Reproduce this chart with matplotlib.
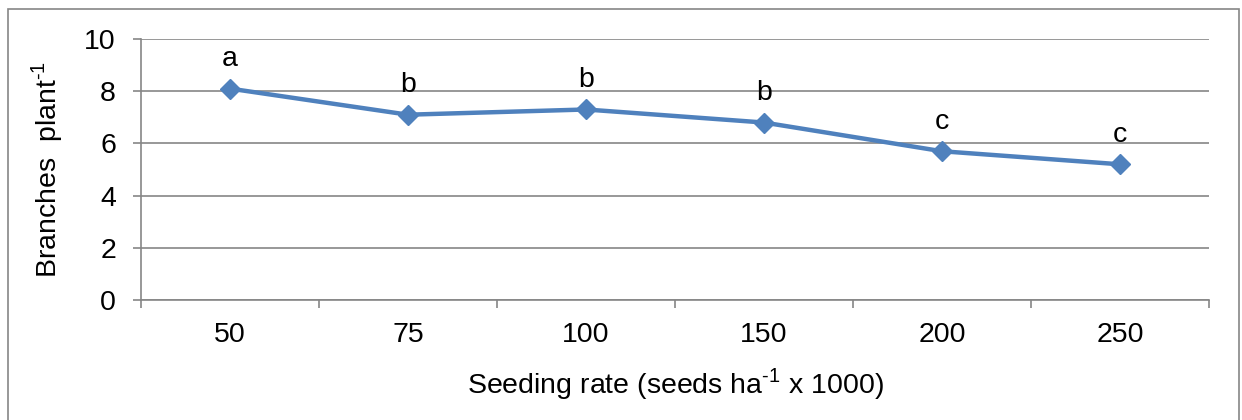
import matplotlib.pyplot as plt
from matplotlib.patches import Rectangle

plt.rcParams['font.family'] = ['Liberation Sans', 'DejaVu Sans']
plt.rcParams['mathtext.fontset'] = 'custom'
plt.rcParams['mathtext.rm'] = 'Liberation Sans'

# Data
rates = ['50', '75', '100', '150', '200', '250']
branches = [8.1, 7.1, 7.3, 6.8, 5.7, 5.2]
letters = ['a', 'b', 'b', 'b', 'c', 'c']

grey = '#868686'
blue = '#4F81BD'

fig = plt.figure(figsize=(12.42, 4.2), dpi=100)
ax = fig.add_axes([0.1135, 0.2857, 0.8599, 0.6214])

# chart border
fig.patches.append(Rectangle((8 / 1242, -0.1), 1231 / 1242, 1 - 9 / 420 + 0.1,
                             transform=fig.transFigure, fill=False,
                             edgecolor=grey, linewidth=1.2, clip_on=False))

x = list(range(len(rates)))
ax.plot(x, branches, color=blue, linewidth=3.2, marker='D', markersize=10,
        markeredgecolor=blue, markerfacecolor=blue, zorder=3)

for xi, yi, lab in zip(x, branches, letters):
    ax.annotate(lab, (xi, yi), xytext=(0, 16), textcoords='offset points',
                ha='center', va='baseline', fontsize=20.5)

ax.set_xlim(-0.5, 5.5)
ax.set_ylim(0, 10)
ax.set_yticks([0, 2, 4, 6, 8, 10])
ax.set_xticks(x)
ax.set_xticklabels(rates)
ax.set_xticks([i - 0.5 for i in range(len(rates) + 1)], minor=True)
ax.tick_params(axis='x', which='major', length=0, pad=16, labelsize=20.5)
ax.tick_params(axis='x', which='minor', length=6, width=1.2, color=grey)
ax.tick_params(axis='y', length=6, width=1.2, color=grey, pad=12, labelsize=20.5)

ax.grid(axis='y', color=grey, linewidth=1.2)
ax.set_axisbelow(True)
for s in ['top', 'right']:
    ax.spines[s].set_visible(False)
for s in ['left', 'bottom']:
    ax.spines[s].set_color(grey)
    ax.spines[s].set_linewidth(1.2)

ax.set_xlabel('Seeding rate (seeds ha$^{\u20101}$ x 1000)', fontsize=20.5)
ax.set_ylabel('Branches  plant$^{\u20101}$', fontsize=20.5)
ax.xaxis.set_label_coords(0.5, -0.253)
ax.yaxis.set_label_coords(-0.071, 0.5)

plt.savefig('out.png', dpi=100)
